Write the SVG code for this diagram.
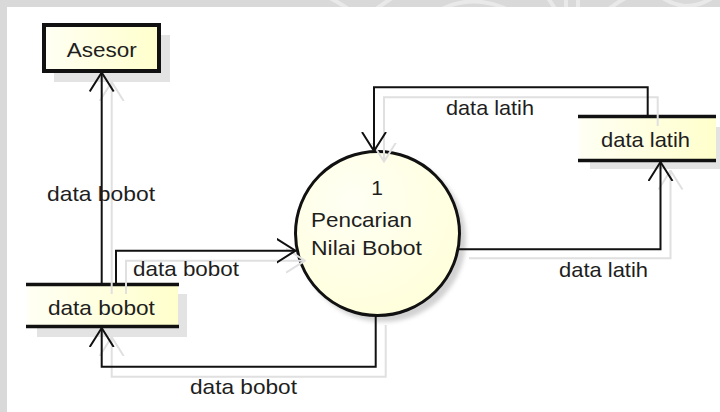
<svg xmlns="http://www.w3.org/2000/svg" width="720" height="412" viewBox="0 0 720 412">
  <defs>
    <linearGradient id="paleYellow" x1="0" y1="0" x2="1" y2="0">
      <stop offset="0" stop-color="#fffff4"/>
      <stop offset="1" stop-color="#ffffcc"/>
    </linearGradient>
    <radialGradient id="bubbleFill" cx="0.35" cy="0.3" r="0.85">
      <stop offset="0" stop-color="#fffff4"/>
      <stop offset="1" stop-color="#ffffd8"/>
    </radialGradient>
    <filter id="soft" x="-20%" y="-20%" width="140%" height="140%">
      <feGaussianBlur stdDeviation="2"/>
    </filter>
    <clipPath id="topBand">
      <rect x="0" y="0" width="720" height="7"/>
    </clipPath>
    <marker id="arrow" viewBox="0 0 20 26" refX="19" refY="13" markerWidth="20" markerHeight="26" orient="auto" markerUnits="userSpaceOnUse">
      <path d="M0,1 L19,13 L0,25" fill="none" stroke="#111" stroke-width="2"/>
    </marker>
    <marker id="arrowGhost" viewBox="0 0 20 26" refX="19" refY="13" markerWidth="20" markerHeight="26" orient="auto" markerUnits="userSpaceOnUse">
      <path d="M0,1 L19,13 L0,25" fill="none" stroke="#e0e0e0" stroke-width="2"/>
    </marker>
  </defs>
  <style>
    .frame{fill:#d9d9d9}
    .paper{fill:#ffffff}
    .mark{fill:none;stroke:#e9e9e9;stroke-width:4}
    .shade{fill:#e3e3e3}
    .border{fill:url(#paleYellow);stroke:#111;stroke-width:4}
    .storeFill{fill:url(#paleYellow)}
    .storeLine{stroke:#111;stroke-width:3.5}
    .bubble{fill:url(#bubbleFill);stroke:#111;stroke-width:3}
    .flow{fill:none;stroke:#111;stroke-width:2;marker-end:url(#arrow)}
    .ghost{fill:none;stroke:#e0e0e0;stroke-width:2;marker-end:url(#arrowGhost)}
    .lbl{font-family:"Liberation Sans",Arial,sans-serif;font-size:21px;fill:#1e1e1e}
  </style>

  <!-- page background with grey margin -->
  <rect class="frame" x="0" y="0" width="720" height="412"/>
  <rect class="paper" x="7" y="7" width="713" height="405"/>
  <g clip-path="url(#topBand)">
    <path class="mark" d="M330,-2 Q345,6 352,12"/>
    <path class="mark" d="M392,-2 Q380,6 372,12"/>
    <path class="mark" d="M440,10 Q470,-6 505,8"/>
    <path class="mark" d="M548,-2 L556,10 M566,-2 L566,10 M578,-2 L578,10"/>
    <path class="mark" d="M605,12 Q620,0 630,-4"/>
    <path class="mark" d="M660,-4 Q670,4 684,6 Q700,6 712,-2"/>
  </g>

  <!-- drop shadows -->
  <g id="shadows">
    <rect class="shade" x="54" y="35" width="116" height="47"/>
    <rect class="shade" x="37" y="294" width="150" height="43"/>
    <rect class="shade" x="590" y="127" width="130" height="42"/>
    <circle cx="383" cy="239" r="83" fill="#d2d2d2" filter="url(#soft)"/>
  </g>

  <!-- external entity -->
  <g id="asesor">
    <rect class="border" x="44" y="25" width="115" height="46"/>
    <text class="lbl" x="101.7" y="57" text-anchor="middle" textLength="70" lengthAdjust="spacingAndGlyphs">Asesor</text>
  </g>

  <!-- data store: data bobot -->
  <g id="store-data-bobot">
    <rect class="storeFill" x="27" y="285" width="151" height="41"/>
    <line class="storeLine" x1="26" y1="284.5" x2="179" y2="284.5"/>
    <line class="storeLine" x1="26" y1="326.5" x2="179" y2="326.5"/>
    <text class="lbl" x="101.4" y="315" text-anchor="middle" textLength="107" lengthAdjust="spacingAndGlyphs">data bobot</text>
  </g>

  <!-- data store: data latih -->
  <g id="store-data-latih">
    <rect class="storeFill" x="579" y="117" width="137" height="43"/>
    <line class="storeLine" x1="578" y1="116.5" x2="716" y2="116.5"/>
    <line class="storeLine" x1="578" y1="160.5" x2="716" y2="160.5"/>
    <text class="lbl" x="601" y="147" textLength="89" lengthAdjust="spacingAndGlyphs">data latih</text>
  </g>

  <!-- process 1 -->
  <g id="process-1">
    <circle class="bubble" cx="377.5" cy="233.5" r="82"/>
    <text class="lbl" x="377" y="195" text-anchor="middle">1</text>
    <text class="lbl" x="311" y="227" textLength="101" lengthAdjust="spacingAndGlyphs">Pencarian</text>
    <text class="lbl" x="311" y="255" textLength="111" lengthAdjust="spacingAndGlyphs">Nilai Bobot</text>
  </g>

  <!-- data flows -->
  <g id="connectors">
    <path class="ghost" d="M111.7,294 V82"/>
    <path class="ghost" d="M126,294 V260.7 H305"/>
    <path class="ghost" d="M385.7,325 V376.7 H111.7 V337"/>
    <path class="ghost" d="M657.7,126 V97.3 H384 V161.5"/>
    <path class="ghost" d="M469,258.3 H670.5 V170.5"/>

    <path class="flow" d="M101.7,284 V72.5"/>
    <path class="flow" d="M116,284 V250.7 H295.5"/>
    <path class="flow" d="M375.7,315 V366.7 H101.7 V328"/>
    <path class="flow" d="M647.7,115 V87.3 H374 V151"/>
    <path class="flow" d="M459,249.3 H660.5 V162"/>

    <text class="lbl" x="47" y="201" textLength="108" lengthAdjust="spacingAndGlyphs">data bobot</text>
    <text class="lbl" x="133" y="276" textLength="106" lengthAdjust="spacingAndGlyphs">data bobot</text>
    <text class="lbl" x="190" y="394" textLength="107" lengthAdjust="spacingAndGlyphs">data bobot</text>
    <text class="lbl" x="446" y="115" textLength="88" lengthAdjust="spacingAndGlyphs">data latih</text>
    <text class="lbl" x="559" y="277" textLength="89" lengthAdjust="spacingAndGlyphs">data latih</text>
  </g>
</svg>
